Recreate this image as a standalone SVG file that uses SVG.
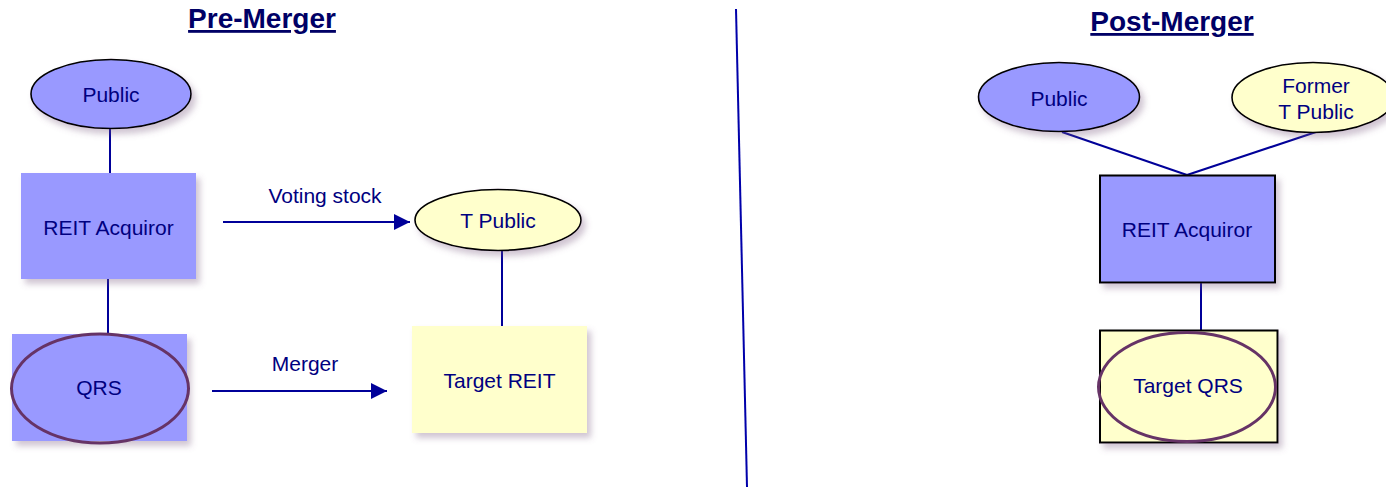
<svg xmlns="http://www.w3.org/2000/svg" width="1386" height="487" viewBox="0 0 1386 487">
  <defs>
    <filter id="shadow" x="-20%" y="-20%" width="150%" height="150%">
      <feDropShadow dx="4" dy="5" stdDeviation="3" flood-color="#7a5a80" flood-opacity="0.35"/>
    </filter>
    <marker id="arrow" viewBox="0 0 16 16" refX="16" refY="8" markerWidth="16" markerHeight="16" markerUnits="userSpaceOnUse" orient="auto">
      <path d="M0,0 L16,8 L0,16 Z" fill="#000099"/>
    </marker>
    <style>
      .title { font-family: "Liberation Sans", Arial, sans-serif; font-weight: bold; font-size: 28px; fill: #000066; text-anchor: middle; text-decoration: underline; }
      .lbl { font-family: "Liberation Sans", Arial, sans-serif; font-size: 21px; fill: #000080; text-anchor: middle; }
      .blue { fill: #9999ff; }
      .yellow { fill: #ffffcc; }
      .oval { stroke: #000000; stroke-width: 1.6; }
      .box { stroke: #000000; stroke-width: 2; }
      .qrs { fill: none; stroke: #663366; stroke-width: 3; }
      .link { stroke: #000099; stroke-width: 2; fill: none; }
      .divider { stroke: #0000aa; stroke-width: 2; }
    </style>
  </defs>

  <rect width="1386" height="487" fill="#ffffff"/>

  <!-- section headings -->
  <text class="title" x="262" y="28">Pre-Merger</text>
  <text class="title" x="1172" y="31" font-size="29">Post-Merger</text>

  <!-- vertical divider between the two structures -->
  <line class="divider" x1="736" y1="9" x2="747" y2="487"/>

  <g id="connectors">
    <line class="link" x1="110" y1="128" x2="110" y2="174"/>
    <line class="link" x1="108" y1="279" x2="108" y2="334"/>
    <line class="link" x1="502" y1="250" x2="502" y2="326"/>
    <line class="link" x1="223" y1="222" x2="410" y2="222" marker-end="url(#arrow)"/>
    <line class="link" x1="212" y1="391" x2="387" y2="391" marker-end="url(#arrow)"/>
    <line class="link" x1="1062" y1="132" x2="1187" y2="175"/>
    <line class="link" x1="1316" y1="132" x2="1187" y2="175"/>
    <line class="link" x1="1201" y1="283" x2="1201" y2="330"/>
  </g>

  <!-- arrow labels -->
  <text class="lbl" x="325" y="203">Voting stock</text>
  <text class="lbl" x="305" y="371">Merger</text>

  <!-- Pre-Merger nodes -->
  <g id="pre-public">
    <ellipse class="blue oval" cx="111" cy="94" rx="80" ry="34.5" filter="url(#shadow)"/>
    <text class="lbl" x="111" y="102">Public</text>
  </g>
  <g id="pre-reit-acquiror">
    <rect class="blue" x="21" y="173" width="175" height="106" filter="url(#shadow)"/>
    <text class="lbl" x="108.5" y="235">REIT Acquiror</text>
  </g>
  <g id="pre-qrs">
    <rect class="blue" x="12" y="334" width="175" height="107" filter="url(#shadow)"/>
    <ellipse class="qrs" cx="100" cy="388.5" rx="88.5" ry="54.5"/>
    <text class="lbl" x="99" y="395">QRS</text>
  </g>
  <g id="pre-t-public">
    <ellipse class="yellow oval" cx="498" cy="220" rx="83" ry="30.5" filter="url(#shadow)"/>
    <text class="lbl" x="498" y="228">T Public</text>
  </g>
  <g id="pre-target-reit">
    <rect class="yellow" x="412" y="326" width="175" height="107" filter="url(#shadow)"/>
    <text class="lbl" x="499.5" y="388">Target REIT</text>
  </g>

  <!-- Post-Merger nodes -->
  <g id="post-public">
    <ellipse class="blue oval" cx="1059" cy="97" rx="80.5" ry="34.5" filter="url(#shadow)"/>
    <text class="lbl" x="1059" y="106">Public</text>
  </g>
  <g id="post-former-t-public">
    <ellipse class="yellow oval" cx="1313" cy="97.5" rx="81" ry="35" filter="url(#shadow)"/>
    <text class="lbl" x="1316" y="93">Former</text>
    <text class="lbl" x="1316" y="119">T Public</text>
  </g>
  <g id="post-reit-acquiror">
    <rect class="blue box" x="1100" y="175.5" width="175" height="107" filter="url(#shadow)"/>
    <text class="lbl" x="1187" y="237">REIT Acquiror</text>
  </g>
  <g id="post-target-qrs">
    <rect class="yellow box" x="1100" y="330.5" width="177.5" height="112" filter="url(#shadow)"/>
    <ellipse class="qrs" cx="1187" cy="387" rx="88.5" ry="54.5"/>
    <text class="lbl" x="1188" y="393">Target QRS</text>
  </g>
</svg>
